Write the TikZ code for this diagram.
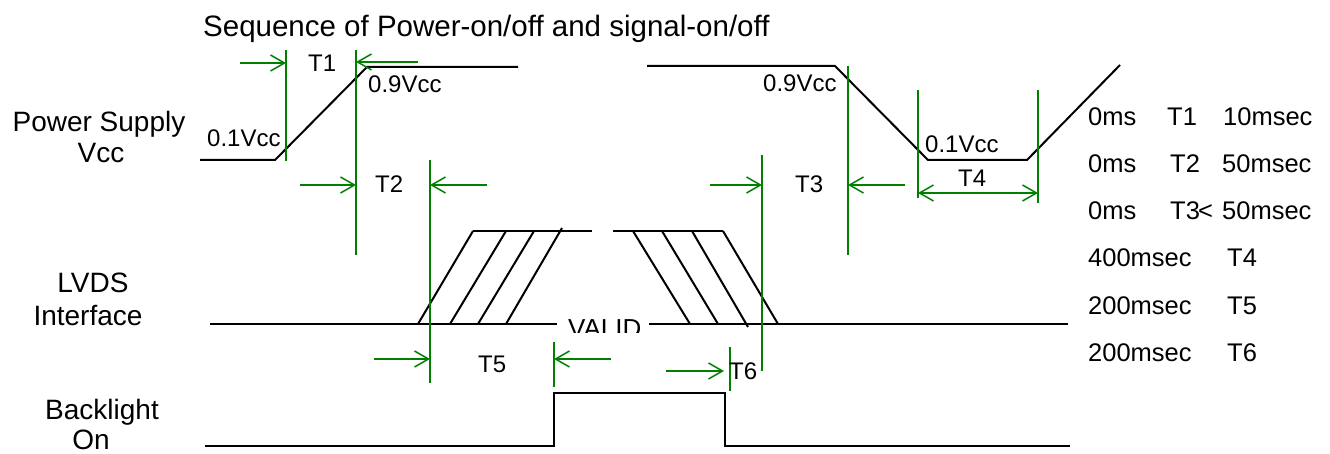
\documentclass[tikz,border=0pt]{standalone}
\usepackage{fontspec}
\setmainfont{Liberation Sans}
\usetikzlibrary{arrows.meta}
\definecolor{dimgreen}{RGB}{0,128,0}
\begin{document}
\begin{tikzpicture}[x=1pt,y=-1pt,
  sig/.style={line width=2pt, black, line join=miter},
  dimline/.style={line width=1.5pt, dimgreen},
  darr/.style={dimline, -{Straight Barb[length=14pt,width=16pt]}},
  dbarr/.style={dimline, {Straight Barb[length=14pt,width=16pt]}-{Straight Barb[length=14pt,width=16pt]}},
  lbl/.style={font=\fontsize{24}{28}\selectfont, inner sep=0pt, anchor=base west},
  big/.style={font=\fontsize{28}{33}\selectfont, inner sep=0pt, anchor=base},
  col/.style={font=\fontsize{25.5}{30}\selectfont, inner sep=0pt, anchor=base west},
  ttl/.style={font=\fontsize{29.5}{34}\selectfont, inner sep=0pt, anchor=base west}
]
\useasboundingbox (0,0) rectangle (1330,454);

% title
\node[ttl] (title) at (203,37) {Sequence of Power-on/off and signal-on/off};

% left labels
\node[big] (ps1) at (99,132) {Power Supply};
\node[big] (ps2) at (101,163) {Vcc};
\node[big] (lv1) at (93,292) {LVDS};
\node[big] (lv2) at (88,325) {Interface};
\node[big] (bl1) at (102,419) {Backlight};
\node[big] (bl2) at (91,449) {On};

% power supply waveform
\draw[sig] (200,160) -- (275,160) -- (367,67) -- (518,67);
\draw[sig] (647,66) -- (835,66) -- (928,160) -- (1027,160) -- (1120,65);

% LVDS
\draw[sig] (210,324) -- (557,324);
\draw[sig] (649,324) -- (1068,324);
\draw[sig] (473,231) -- (592,231);
\draw[sig] (613,231) -- (723,231);
\draw[sig] (418,324) -- (473,231);
\draw[sig] (450,324) -- (506,231);
\draw[sig] (478,324) -- (534,231);
\draw[sig] (506,324) -- (562,228);
\draw[sig] (633,231) -- (690,324);
\draw[sig] (662,231) -- (718,324);
\draw[sig] (692,231) -- (748,327);
\draw[sig] (723,231) -- (778,324);
\begin{scope}
  \clip (560,300) rectangle (650,332);
  \node[lbl, font=\fontsize{26}{30}\selectfont] (valid) at (568,337) {VALID};
\end{scope}

% backlight
\draw[sig] (205,446) -- (554,446) -- (554,393) -- (725,393) -- (725,446) -- (1070,446);

% green verticals
\draw[dimline] (286,50) -- (286,161);
\draw[dimline] (356,50) -- (356,255);
\draw[dimline] (430,160) -- (430,383);
\draw[dimline] (762,155) -- (762,371);
\draw[dimline] (848,66) -- (848,255);
\draw[dimline] (918,90) -- (918,198);
\draw[dimline] (1038,90) -- (1038,203);
\draw[dimline] (554,342) -- (554,387);
\draw[dimline] (730,347) -- (730,391);

% green arrows
\draw[darr] (240,63) -- (286,63);
\draw[darr] (418,62) -- (356,62);
\draw[darr] (300,185) -- (356,185);
\draw[darr] (487,185) -- (430,185);
\draw[darr] (710,185) -- (762,185);
\draw[darr] (905,185) -- (848,185);
\draw[dbarr] (918,193) -- (1038,193);
\draw[darr] (374,359) -- (430,359);
\draw[darr] (611,359) -- (554,359);
\draw[darr] (666,371) -- (724,371);

% diagram labels
\node[lbl] (t1) at (308,72) {T1};
\node[lbl] (t2) at (375,193) {T2};
\node[lbl] (t3) at (795,193) {T3};
\node[lbl] (t4) at (958,187) {T4};
\node[lbl] (t5) at (478,372) {T5};
\node[lbl] (t6) at (729,379) {T6};
\node[lbl] (v01a) at (207,147) {0.1Vcc};
\node[lbl] (v09a) at (368,93) {0.9Vcc};
\node[lbl] (v09b) at (763,92) {0.9Vcc};
\node[lbl] (v01b) at (925,153) {0.1Vcc};

% right column
\node[col] (r1a) at (1088,126) {0ms};
\node[col] (r1b) at (1167,126) {T1};
\node[col] (r1c) at (1223,126) {10msec};
\node[col] (r2a) at (1088,173) {0ms};
\node[col] (r2b) at (1170,173) {T2};
\node[col] (r2c) at (1222,173) {50msec};
\node[col] (r3a) at (1088,220) {0ms};
\node[col] (r3b) at (1170,220) {T3};
\node[col] (r3d) at (1198,220) {<};
\node[col] (r3c) at (1222,220) {50msec};
\node[col] (r4a) at (1088,267) {400msec};
\node[col] (r4b) at (1227,267) {T4};
\node[col] (r5a) at (1088,314) {200msec};
\node[col] (r5b) at (1227,314) {T5};
\node[col] (r6a) at (1088,361) {200msec};
\node[col] (r6b) at (1227,361) {T6};
\end{tikzpicture}
\end{document}
